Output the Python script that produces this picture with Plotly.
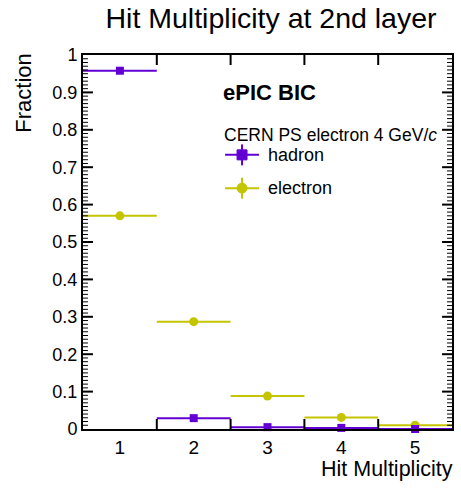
import plotly.graph_objects as go

# Hit multiplicity bins and fractions per particle type
multiplicity = [1, 2, 3, 4, 5]
hadron_frac = [0.958, 0.029, 0.005, 0.003, 0.0]
electron_frac = [0.570, 0.287, 0.088, 0.031, 0.010]
bin_half_width = [0.5, 0.5, 0.5, 0.5, 0.5]

hadron_color = "#6200d4"
electron_color = "#c4c400"
FONT = "Liberation Sans, Arial, Helvetica, sans-serif"

WIDTH, HEIGHT = 461, 492
MARGIN = dict(l=83, r=7, t=55, b=63)
plot_w = WIDTH - MARGIN["l"] - MARGIN["r"]
plot_h = HEIGHT - MARGIN["t"] - MARGIN["b"]
x_range = [multiplicity[0] - bin_half_width[0], multiplicity[-1] + bin_half_width[-1]]
y_range = [0.0, 1.0]

fig = go.Figure()

fig.add_trace(go.Scatter(
    x=multiplicity, y=electron_frac, mode="markers", name="electron",
    marker=dict(symbol="circle", size=9, color=electron_color),
    error_x=dict(type="data", array=bin_half_width, color=electron_color,
                 thickness=2, width=0),
    cliponaxis=False, showlegend=False,
))
fig.add_trace(go.Scatter(
    x=multiplicity, y=hadron_frac, mode="markers", name="hadron",
    marker=dict(symbol="square", size=8, color=hadron_color),
    error_x=dict(type="data", array=bin_half_width, color=hadron_color,
                 thickness=2, width=0),
    cliponaxis=False, showlegend=False,
))

# ROOT-style inward tick marks on all four sides, built in data units
x_span = x_range[1] - x_range[0]
y_span = y_range[1] - y_range[0]
len_on_x = 10 / plot_h * y_span          # vertical ticks on bin edges
len_major_y = 10 / plot_w * x_span       # horizontal ticks, major
len_minor_y = 5 / plot_w * x_span        # horizontal ticks, minor

edge_x, edge_y = [], []
for i in range(len(multiplicity) - 1):
    edge = multiplicity[i] + bin_half_width[i]
    edge_x += [edge, edge, None, edge, edge, None]
    edge_y += [y_range[0], y_range[0] + len_on_x, None,
               y_range[1] - len_on_x, y_range[1], None]

maj_x, maj_y, min_x, min_y = [], [], [], []
for k in range(1, 100):
    val = y_range[0] + k * y_span / 100
    if k % 10 == 0:
        maj_x += [x_range[0], x_range[0] + len_major_y, None,
                  x_range[1] - len_major_y, x_range[1], None]
        maj_y += [val, val, None, val, val, None]
    else:
        min_x += [x_range[0], x_range[0] + len_minor_y, None,
                  x_range[1] - len_minor_y, x_range[1], None]
        min_y += [val, val, None, val, val, None]

for tx, ty, w in [(edge_x, edge_y, 2), (maj_x, maj_y, 2), (min_x, min_y, 1)]:
    fig.add_trace(go.Scatter(x=tx, y=ty, mode="lines",
                             line=dict(color="black", width=w),
                             hoverinfo="skip", showlegend=False,
                             connectgaps=False))

fig.update_xaxes(
    range=x_range, tickmode="array", tickvals=multiplicity, ticks="",
    showline=True, linecolor="black", linewidth=2, mirror=True,
    showgrid=False, zeroline=False,
    tickfont=dict(family=FONT, size=19, color="black"),
)
fig.update_yaxes(
    range=y_range, dtick=0.1, ticks="",
    showline=True, linecolor="black", linewidth=2, mirror=True,
    showgrid=False, zeroline=False,
    tickfont=dict(family=FONT, size=18, color="black"),
)

# Legend drawn by hand so each entry shows marker plus error cross
legend_rows = [("hadron", hadron_color, "square", 0.733),
               ("electron", electron_color, "circle", 0.644)]
shapes = []
annotations = []
x0, x1 = 0.385, 0.477
xm = (x0 + x1) / 2
for label, color, sym, yy in legend_rows:
    shapes.append(dict(type="line", xref="paper", yref="paper",
                       x0=x0, x1=x1, y0=yy, y1=yy,
                       line=dict(color=color, width=2)))
    shapes.append(dict(type="line", xref="paper", yref="paper",
                       x0=xm, x1=xm, y0=yy - 0.028, y1=yy + 0.028,
                       line=dict(color=color, width=2)))
    dx, dy = 0.0135, 0.0134
    shapes.append(dict(type="rect" if sym == "square" else "circle",
                       xref="paper", yref="paper",
                       x0=xm - dx, x1=xm + dx, y0=yy - dy, y1=yy + dy,
                       fillcolor=color, line=dict(color=color, width=1)))
    annotations.append(dict(text=label, xref="paper", yref="paper",
                            x=0.496, y=yy, xanchor="left", yanchor="middle",
                            showarrow=False,
                            font=dict(family=FONT, size=18, color="black")))

annotations += [
    dict(text="<b>ePIC BIC</b>", xref="paper", yref="paper", x=0.375, y=0.901,
         xanchor="left", yanchor="middle", showarrow=False,
         font=dict(family=FONT, size=22, color="black")),
    dict(text="CERN PS electron 4 GeV/<i>c</i>", xref="paper", yref="paper",
         x=0.377, y=0.787, xanchor="left", yanchor="middle", showarrow=False,
         font=dict(family=FONT, size=17.5, color="black")),
    dict(text="Fraction", xref="paper", yref="paper", x=-0.162, y=1.008,
         xanchor="center", yanchor="top", textangle=-90, showarrow=False,
         font=dict(family=FONT, size=22, color="black")),
    dict(text="Hit Multiplicity", xref="paper", yref="paper", x=1.008, y=-0.108,
         xanchor="right", yanchor="middle", showarrow=False,
         font=dict(family=FONT, size=21.5, color="black")),
]

fig.update_layout(
    width=WIDTH, height=HEIGHT,
    margin=MARGIN,
    paper_bgcolor="white", plot_bgcolor="white",
    title=dict(text="Hit Multiplicity at 2nd layer", x=0.588, xanchor="center",
               y=0.963, yanchor="middle",
               font=dict(family=FONT, size=28.5, color="black")),
    shapes=shapes, annotations=annotations,
)

fig.write_html("out.html")
